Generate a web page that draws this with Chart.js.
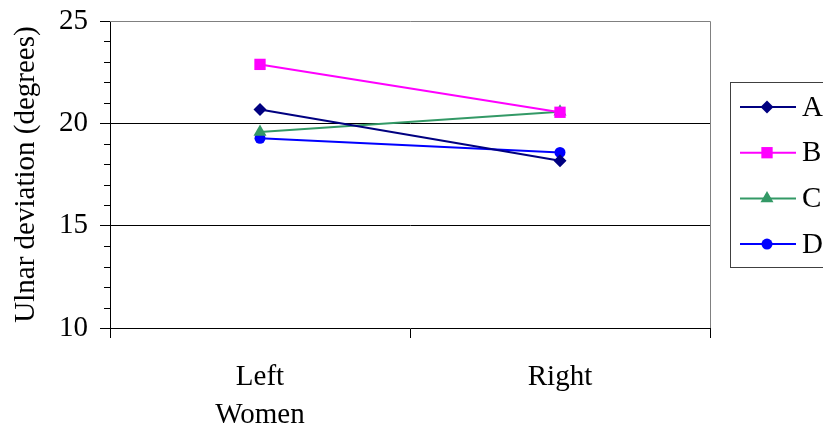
<!DOCTYPE html>
<html><head><meta charset="utf-8">
<script src="https://cdn.jsdelivr.net/npm/chart.js@4/dist/chart.umd.min.js"></script>
<style>html,body{margin:0;padding:0;background:#fff}#wrap{width:823px;height:430px}</style>
</head><body><div id="wrap"><canvas id="c" width="823" height="430"></canvas></div>
<script>
const categories = ['Left', 'Right'];
const groupLabel = 'Women';
const seriesNames = ['A', 'B', 'C', 'D'];
const seriesA = [20.68, 18.17];
const seriesB = [22.88, 20.54];
const seriesC = [19.58, 20.57];
const seriesD = [19.27, 18.58];
const yTicks = [10, 15, 20, 25];
const yTitle = 'Ulnar deviation (degrees)';

const colors = ['#000080', '#FF00FF', '#339966', '#0000FF'];
const styles = ['rectRot', 'rect', 'triangle', 'circle'];
const radii = [6.5, 8, 7.5, 5.5];
const FONT = "'Liberation Serif', 'Times New Roman', serif";
const FS = 29;

const labels = categories.map((c, i) => i === 0 ? [c, groupLabel] : [c, '']);
const allSeries = [seriesA, seriesB, seriesC, seriesD];
const datasets = allSeries.map((d, i) => ({
  label: seriesNames[i], data: d, borderColor: colors[i], backgroundColor: colors[i],
  borderWidth: 2, pointStyle: styles[i], pointRadius: radii[i], pointHoverRadius: radii[i],
  pointBorderWidth: 0, tension: 0
}));

const extras = {
  id: 'extras',
  beforeDatasetsDraw(chart) {
    const {ctx, chartArea: a} = chart;
    ctx.save();
    ctx.strokeStyle = '#808080'; ctx.lineWidth = 1;
    ctx.beginPath();
    ctx.moveTo(a.left, a.top + 0.5); ctx.lineTo(a.right + 0.5, a.top + 0.5);
    ctx.lineTo(a.right + 0.5, a.bottom);
    ctx.stroke();
    ctx.restore();
  },
  afterDraw(chart) {
    const {ctx, chartArea: a} = chart;
    ctx.save();
    // minor ticks
    const y = chart.scales.y;
    ctx.strokeStyle = '#000'; ctx.lineWidth = 1;
    ctx.beginPath();
    for (let v = y.min; v <= y.max; v += 1) {
      if (v % 5 === 0) continue;
      const py = Math.round(y.getPixelForValue(v)) + 0.5;
      ctx.moveTo(a.left - 6, py); ctx.lineTo(a.left, py);
    }
    ctx.stroke();
    // legend
    ctx.strokeStyle = '#404040'; ctx.lineWidth = 1;
    ctx.strokeRect(730.5, 82.5, 100, 185);
    chart.data.datasets.forEach((ds, i) => {
      const cy = 107 + i * 45.7;
      ctx.strokeStyle = ds.borderColor; ctx.lineWidth = 2;
      ctx.beginPath(); ctx.moveTo(740, cy); ctx.lineTo(796, cy); ctx.stroke();
      ctx.fillStyle = ds.backgroundColor;
      Chart.helpers.drawPoint(ctx, {pointStyle: ds.pointStyle, radius: ds.pointRadius, rotation: 0, borderWidth: 0}, 767, cy);
      ctx.fillStyle = '#000'; ctx.font = FS + 'px ' + FONT;
      ctx.textBaseline = 'middle'; ctx.textAlign = 'left';
      ctx.fillText(ds.label, 802, cy + 1);
    });
    ctx.restore();
  }
};

new Chart(document.getElementById('c'), {
  type: 'line',
  data: {labels, datasets},
  plugins: [extras],
  options: {
    responsive: false, animation: false, devicePixelRatio: 1,
    layout: {padding: {top: 21, right: 113, left: 0, bottom: 0}},
    plugins: {legend: {display: false}, tooltip: {enabled: false}},
    scales: {
      x: {
        offset: true,
        grid: {offset: true, drawOnChartArea: false, color: '#000', tickLength: 10, tickColor: '#000'},
        border: {color: '#000', width: 1},
        ticks: {color: '#000', font: {family: FONT, size: FS, lineHeight: 1.31}, padding: 20, maxRotation: 0, autoSkip: false},
        afterFit(s) { s.height = 102; s.paddingLeft = 0; s.paddingRight = 0; }
      },
      y: {
        min: 10, max: 25,
        afterBuildTicks(s) { s.ticks = yTicks.map(v => ({value: v})); },
        grid: {
          color: ctx => (ctx.tick && (ctx.tick.value === 15 || ctx.tick.value === 20)) ? '#000' : 'rgba(0,0,0,0)',
          tickColor: '#000', tickLength: 10
        },
        border: {color: '#000', width: 1},
        ticks: {color: '#000', font: {family: FONT, size: FS}, padding: 12},
        title: {display: true, text: yTitle, color: '#000', font: {family: FONT, size: FS}, padding: {top: 9, bottom: 4}},
        afterFit(s) { s.width = 110; s.paddingTop = 0; s.paddingBottom = 0; }
      }
    }
  }
});
</script></body></html>
